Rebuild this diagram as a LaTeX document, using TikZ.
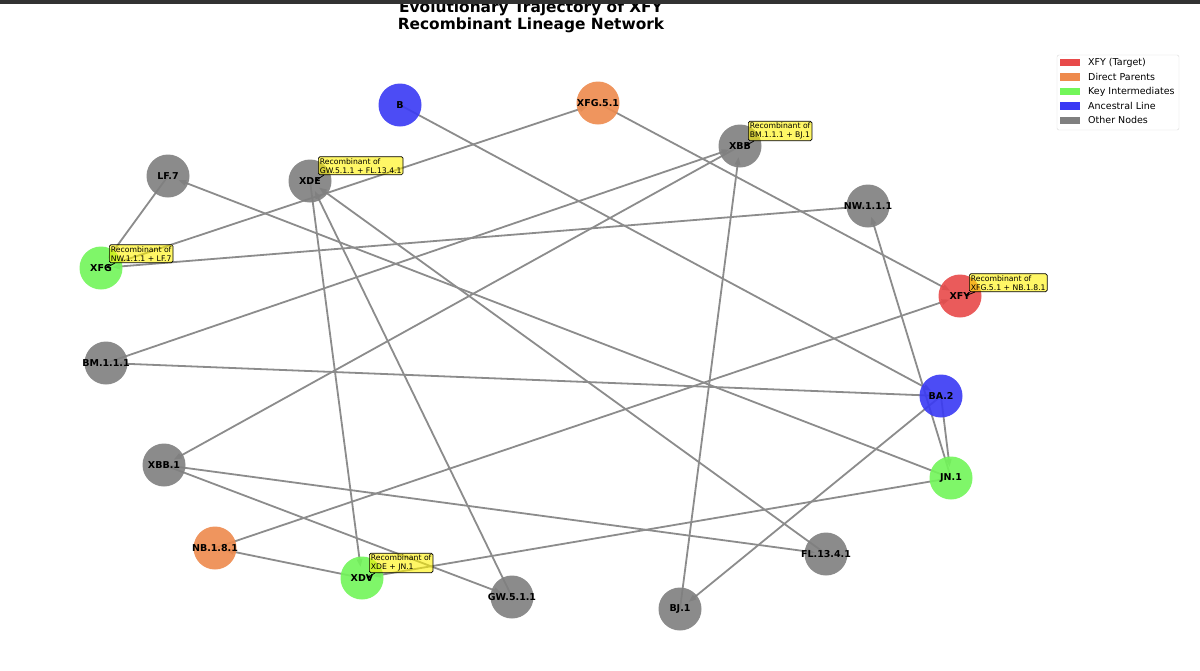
\documentclass[tikz,border=0pt]{standalone}
\usepackage{fontspec}
\setmainfont{DejaVu Sans}
\usetikzlibrary{arrows.meta,backgrounds,calc}
\definecolor{cred}{RGB}{232,74,74}
\definecolor{corange}{RGB}{238,138,77}
\definecolor{cgreen}{RGB}{114,246,89}
\definecolor{cblue}{RGB}{57,57,244}
\definecolor{cgray}{RGB}{127,127,127}
\definecolor{edgegray}{RGB}{140,140,140}
\definecolor{topbar}{RGB}{50,50,50}
\newcommand{\nodelbl}[1]{\makebox[0pt][c]{#1}}
\begin{document}
\begin{tikzpicture}[x=1pt,y=-1pt,
  lin/.style={circle,minimum size=43pt,inner sep=0pt,fill opacity=0.9,text opacity=1,
    font=\fontsize{9.5}{10}\selectfont\bfseries},
  edge/.style={draw=edgegray,line width=1.8pt,shorten >=11pt,
    -{Triangle[length=8pt,width=5.5pt]}},
  ann/.style={draw=black,line width=0.7pt,fill=yellow,fill opacity=0.6,text opacity=1,
    rounded corners=1.5pt,inner sep=1.5pt,align=left,anchor=south west,
    font=\fontsize{7.7}{9}\selectfont},
  annarrow/.style={draw=black,line width=0.8pt,-{Stealth[length=4pt,width=3.5pt]}},
  legtext/.style={anchor=west,inner sep=0pt,font=\fontsize{9.5}{11}\selectfont},
  legpatch/.style={minimum width=20pt,minimum height=7.5pt,inner sep=0pt}
]
\useasboundingbox (0,0) rectangle (1200,670);

% title
\node[align=center,font=\fontsize{15.4}{17}\selectfont\bfseries] (title) at (531,17)
  {Evolutionary Trajectory of XFY\\Recombinant Lineage Network};
\fill[topbar] (0,0) rectangle (1200,4);

% nodes
\node[lin,fill=cblue]   (B)      at (400,105) {\nodelbl{B}};
\node[lin,fill=corange] (XFG51)  at (598,103) {\nodelbl{XFG.5.1}};
\node[lin,fill=cgray]   (XBB)    at (740,146) {\nodelbl{XBB}};
\node[lin,fill=cgray]   (LF7)    at (168,176) {\nodelbl{LF.7}};
\node[lin,fill=cgray]   (XDE)    at (310,181) {\nodelbl{XDE}};
\node[lin,fill=cgray]   (NW111)  at (868,206) {\nodelbl{NW.1.1.1}};
\node[lin,fill=cgreen]  (XFG)    at (101,268) {\nodelbl{XFG}};
\node[lin,fill=cred]    (XFY)    at (960,296) {\nodelbl{XFY}};
\node[lin,fill=cgray]   (BM111)  at (106,363) {\nodelbl{BM.1.1.1}};
\node[lin,fill=cblue]   (BA2)    at (941,396) {\nodelbl{BA.2}};
\node[lin,fill=cgray]   (XBB1)   at (164,465) {\nodelbl{XBB.1}};
\node[lin,fill=cgreen]  (JN1)    at (951,478) {\nodelbl{JN.1}};
\node[lin,fill=corange] (NB181)  at (215,548) {\nodelbl{NB.1.8.1}};
\node[lin,fill=cgreen]  (XDV)    at (362,578) {\nodelbl{XDV}};
\node[lin,fill=cgray]   (FL1341) at (826,554) {\nodelbl{FL.13.4.1}};
\node[lin,fill=cgray]   (GW511)  at (512,597) {\nodelbl{GW.5.1.1}};
\node[lin,fill=cgray]   (BJ1)    at (680,609) {\nodelbl{BJ.1}};

% edges
\begin{scope}[on background layer]
\fill[white] (0,4) rectangle (1200,670);
\foreach \a/\b in {B/BA2, BA2/BM111, BA2/JN1, BA2/BJ1, JN1/NW111, JN1/LF7, JN1/XDV,
  NW111/XFG, LF7/XFG, XFG/XFG51, XFG51/XFY, NB181/XFY, XDV/NB181, XDE/XDV,
  GW511/XDE, FL1341/XDE, XBB1/GW511, XBB1/FL1341, XBB/XBB1, BM111/XBB, BJ1/XBB}
  \draw[edge] (\a.center) -- (\b.center);
\end{scope}

% annotations
\node[ann] (aXBB) at (748,141) {Recombinant of\\BM.1.1.1 + BJ.1};
\node[ann] (aXDE) at (318,175) {Recombinant of\\GW.5.1.1 + FL.13.4.1};
\node[ann] (aXFG) at (109,263) {Recombinant of\\NW.1.1.1 + LF.7};
\node[ann] (aXFY) at (969,292) {Recombinant of\\XFG.5.1 + NB.1.8.1};
\node[ann] (aXDV) at (369,573) {Recombinant of\\XDE + JN.1};
\foreach \b/\n in {aXBB/XBB, aXDE/XDE, aXFG/XFG, aXFY/XFY, aXDV/XDV}
  \draw[annarrow] ([xshift=6pt]\b.south west) -- ([xshift=5pt]\n.center);

% legend
\draw[draw=black!15,fill=white,fill opacity=0.8,rounded corners=2pt] (1057,55) rectangle (1179,130);
\node[legpatch,fill=cred]    (p1) at (1070,62.7)  {};
\node[legpatch,fill=corange] (p2) at (1070,77.1)  {};
\node[legpatch,fill=cgreen]  (p3) at (1070,91.5)  {};
\node[legpatch,fill=cblue]   (p4) at (1070,105.9) {};
\node[legpatch,fill=cgray]   (p5) at (1070,120.3) {};
\node[legtext] (l1) at (1088,62.7)  {XFY (Target)};
\node[legtext] (l2) at (1088,77.1)  {Direct Parents};
\node[legtext] (l3) at (1088,91.5)  {Key Intermediates};
\node[legtext] (l4) at (1088,105.9) {Ancestral Line};
\node[legtext] (l5) at (1088,120.3) {Other Nodes};
\end{tikzpicture}
\end{document}
